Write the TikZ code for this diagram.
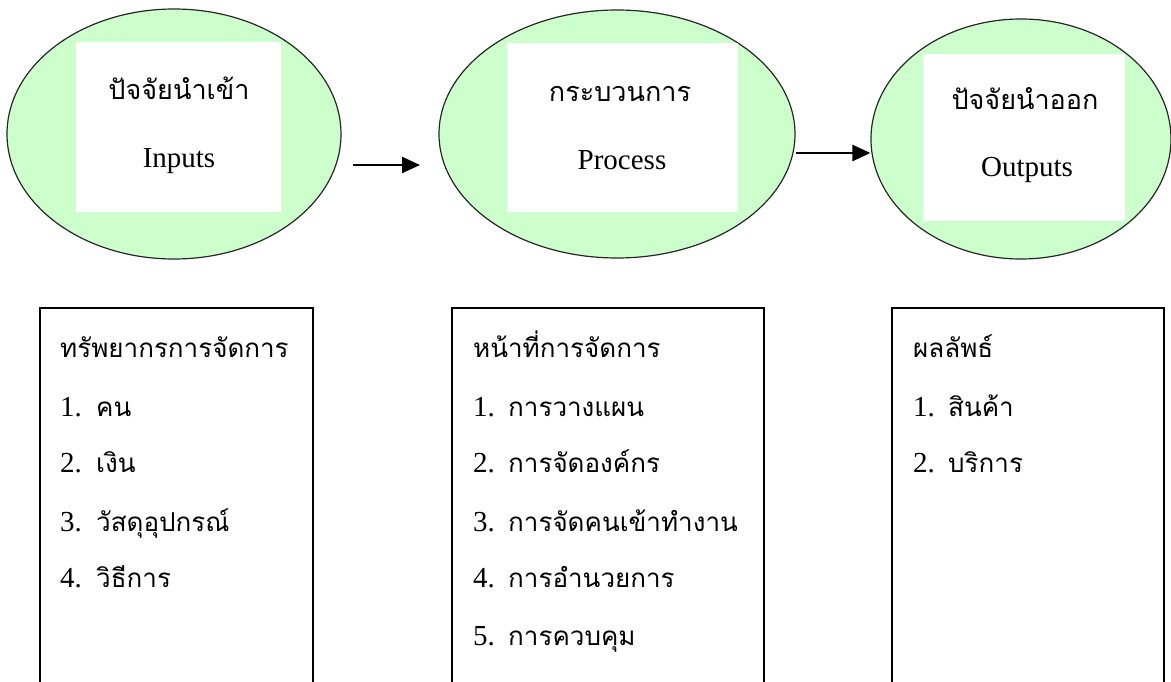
\documentclass[tikz,border=0pt]{standalone}
\usepackage{fontspec}
\setmainfont{Liberation Serif}
\newfontfamily\thaifont[Script=Thai]{Loma}
\usetikzlibrary{shapes.geometric,arrows.meta}
\definecolor{bubble}{RGB}{204,255,204}
\tikzset{
  bubblenode/.style={ellipse, draw=black!85, line width=1.2pt, fill=bubble, inner sep=0pt},
  thaitext/.style={font=\thaifont\fontsize{26}{30}\selectfont, inner sep=0pt},
  thaititle/.style={font=\thaifont\fontsize{27}{30}\selectfont, inner sep=0pt},
  engtext/.style={font=\fontsize{29}{32}\selectfont, inner sep=0pt},
  flow/.style={line width=2.5pt, -{Triangle[length=18pt,width=16pt]}}
}

\begin{document}
\begin{tikzpicture}[x=1pt, y=-1pt]
  \useasboundingbox (0,0) rectangle (1171,682);
  % three stages
  \node[bubblenode, minimum width=334pt, minimum height=250pt] (inputs) at (174,134) {};
  \node[bubblenode, minimum width=356pt, minimum height=248pt] (process) at (617,134) {};
  \node[bubblenode, minimum width=300pt, minimum height=240pt] (outputs) at (1021,139) {};
  \fill[white] (76,42) rectangle (281,212);
  \fill[white] (507,43) rectangle (738,212);
  \fill[white] (923,54) rectangle (1125,221);
  \node[thaititle, anchor=base] (inth) at (179,100) {ปัจจัยนำเข้า};
  \node[engtext, anchor=base] (inen) at (179,168) {Inputs};
  \node[thaititle, anchor=base] (prth) at (620,102) {กระบวนการ};
  \node[engtext, anchor=base] (pren) at (622,170) {Process};
  \node[thaititle, anchor=base] (outh) at (1025,110) {ปัจจัยนำออก};
  \node[engtext, anchor=base] (outen) at (1027,177) {Outputs};
  \coordinate (a1) at (353,165);
  \coordinate (a2) at (420,165);
  \draw[flow] (a1) -- (a2);
  \draw[flow] (process.east |- 0,153) -- (outputs.west |- 0,153);
  % boxes below, open at the bottom
  \draw[line width=1.3pt] (40,682) -- (40,308) -- (313,308) -- (313,682);
  \draw[line width=1.3pt] (452,682) -- (452,308) -- (764,308) -- (764,682);
  \draw[line width=1.3pt] (892,682) -- (892,308) -- (1164,308) -- (1164,682);
  % box 1
  \node[thaitext, anchor=base west] (res) at (60,357) {ทรัพยากรการจัดการ};
  \node[engtext, anchor=base west] (r1n) at (60,416) {1.};
  \node[thaitext, anchor=base west] (r1) at (96,416) {คน};
  \node[engtext, anchor=base west] (r2n) at (60,472) {2.};
  \node[thaitext, anchor=base west] (r2) at (96,472) {เงิน};
  \node[engtext, anchor=base west] (r3n) at (60,531) {3.};
  \node[thaitext, anchor=base west] (r3) at (96,531) {วัสดุอุปกรณ์};
  \node[engtext, anchor=base west] (r4n) at (60,587) {4.};
  \node[thaitext, anchor=base west] (r4) at (96,587) {วิธีการ};
  % box 2
  \node[thaitext, anchor=base west] (fun) at (473,357) {หน้าที่การจัดการ};
  \node[engtext, anchor=base west] (f1n) at (473,416) {1.};
  \node[thaitext, anchor=base west] (f1) at (508,416) {การวางแผน};
  \node[engtext, anchor=base west] (f2n) at (473,472) {2.};
  \node[thaitext, anchor=base west] (f2) at (508,472) {การจัดองค์กร};
  \node[engtext, anchor=base west] (f3n) at (473,531) {3.};
  \node[thaitext, anchor=base west] (f3) at (508,531) {การจัดคนเข้าทำงาน};
  \node[engtext, anchor=base west] (f4n) at (473,587) {4.};
  \node[thaitext, anchor=base west] (f4) at (508,587) {การอำนวยการ};
  \node[engtext, anchor=base west] (f5n) at (473,645) {5.};
  \node[thaitext, anchor=base west] (f5) at (508,645) {การควบคุม};
  % box 3
  \node[thaitext, anchor=base west] (res3) at (913,357) {ผลลัพธ์};
  \node[engtext, anchor=base west] (o1n) at (913,416) {1.};
  \node[thaitext, anchor=base west] (o1) at (948,416) {สินค้า};
  \node[engtext, anchor=base west] (o2n) at (913,472) {2.};
  \node[thaitext, anchor=base west] (o2) at (948,472) {บริการ};
\end{tikzpicture}
\end{document}
